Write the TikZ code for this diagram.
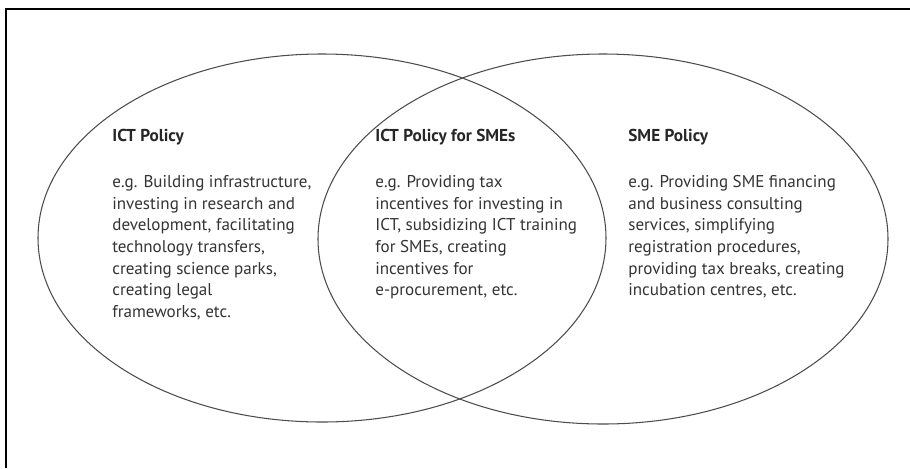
\documentclass[tikz,border=0pt]{standalone}
\usepackage{fontspec}
\setmainfont{PT Sans}
\tikzset{
    policyset/.style={draw=black!70, line width=0.6pt},
    policytitle/.style={anchor=base west, inner sep=0, font=\bfseries\fontsize{9.8}{12}\selectfont, text=black!85},
    policytext/.style={anchor=north west, inner sep=0, align=left, font=\fontsize{9.7}{12.35}\selectfont, text=black!80}
}

\begin{document}
\begin{tikzpicture}[x=0.02cm, y=-0.02cm]
        \useasboundingbox (0, 0) rectangle (910, 468);
        % frame, only left and top edges
        \draw[line width=1.1pt] (6, 468) -- (6, 9.3) -- (910, 9.3);

        % the two sets
        \draw[policyset] (322, 238) ellipse [x radius=284, y radius=184];
        \draw[policyset] (603, 239) ellipse [x radius=285, y radius=185];

        \node[policytitle] (ictTitle) at (112, 141) {ICT Policy};
        \node[policytext] (ictText) at (112, 175) {e.g. Building infrastructure,\\investing in research and\\development, facilitating\\technology transfers,\\creating science parks,\\creating legal\\frameworks, etc.};

        \node[policytitle] (bothTitle) at (375, 141) {ICT Policy for SMEs};
        \node[policytext] (bothText) at (375, 175) {e.g. Providing tax\\incentives for investing in\\ICT, subsidizing ICT training\\for SMEs, creating\\incentives for\\e-procurement, etc.};

        \node[policytitle] (smeTitle) at (628, 141) {SME Policy};
        \node[policytext] (smeText) at (628, 175) {e.g. Providing SME financing\\and business consulting\\services, simplifying\\registration procedures,\\providing tax breaks, creating\\incubation centres, etc.};
\end{tikzpicture}
\end{document}
